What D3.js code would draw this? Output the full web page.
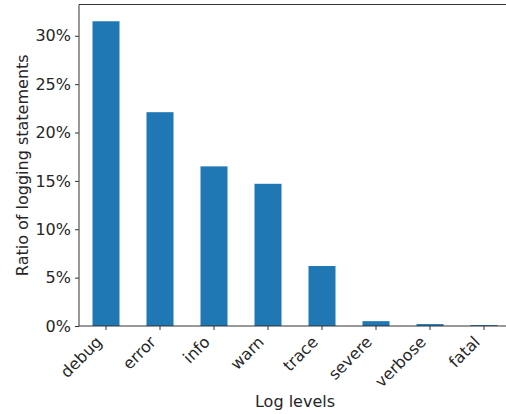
<!DOCTYPE html>
<html lang="en">
    <head>
        <meta charset="utf-8">
        <title>Log levels</title>
        <script type="text/javascript" src="https://d3js.org/d3.v7.min.js"></script>
        <style>
            body { margin: 0; background: #fff; }
            text { font-family: "DejaVu Sans", sans-serif; fill: #262626; }
            .bar { fill: #1f77b4; }
        </style>
    </head>
    <body>
        <svg id="chart"></svg>
    </body>
    <script>
        // data (percent of logging statements)
        let levels = ["debug", "error", "info", "warn", "trace", "severe", "verbose", "fatal"];
        let ratios = [31.5, 22.1, 16.5, 14.7, 6.2, 0.5, 0.2, 0.1];
        let yTicks = [0, 5, 10, 15, 20, 25, 30];

        let width = 506, height = 414;
        let margin = {left: 79, top: 4.5, right: -5, bottom: 88};
        let bodyWidth = width - margin.left - margin.right;
        let bodyHeight = height - margin.top - margin.bottom;

        let svg = d3.select("#chart")
            .attr("width", width)
            .attr("height", height);

        let xScale = d3.scaleBand()
            .domain(levels)
            .range([0, bodyWidth])
            .paddingInner(0.5)
            .paddingOuter(0.25);

        let yScale = d3.scaleLinear()
            .domain([0, d3.max(ratios) * 1.055])
            .range([bodyHeight, 0]);

        let g = svg.append("g")
            .attr("transform", "translate(" + margin.left + "," + margin.top + ")");

        // bars
        g.selectAll(".bar")
            .data(levels)
            .enter()
            .append("rect")
            .attr("class", "bar")
            .attr("x", d => xScale(d))
            .attr("width", xScale.bandwidth())
            .attr("y", (d, i) => yScale(ratios[i]))
            .attr("height", (d, i) => bodyHeight - yScale(ratios[i]));

        // y axis
        let yAxis = g.append("g")
            .call(d3.axisLeft(yScale)
                .tickValues(yTicks)
                .tickFormat(d => d + "%")
                .tickSize(4)
                .tickPadding(4));

        // x axis
        let xAxis = g.append("g")
            .attr("transform", "translate(0," + bodyHeight + ")")
            .call(d3.axisBottom(xScale).tickSize(4).tickPadding(4));

        [xAxis, yAxis].forEach(a => {
            a.selectAll("path").remove();
            a.selectAll("line").attr("stroke", "#333");
            a.selectAll("text").style("font-size", "16px").attr("fill", "#262626");
        });

        xAxis.selectAll("text")
            .attr("text-anchor", "end")
            .attr("dy", null)
            .attr("y", null)
            .attr("transform", "translate(-3,17) rotate(-45)");

        // spines (right one falls outside the picture)
        let spines = g.append("g").attr("stroke", "#333").attr("fill", "none");
        spines.append("line").attr("x1", 0).attr("x2", 0).attr("y1", 0).attr("y2", bodyHeight);
        spines.append("line").attr("x1", 0).attr("x2", bodyWidth).attr("y1", bodyHeight).attr("y2", bodyHeight);
        spines.append("line").attr("x1", 0).attr("x2", bodyWidth).attr("y1", 0).attr("y2", 0);

        // axis labels
        svg.append("text")
            .attr("x", margin.left + bodyWidth / 2)
            .attr("y", 407)
            .attr("text-anchor", "middle")
            .style("font-size", "16px")
            .text("Log levels");

        svg.append("text")
            .attr("transform", "translate(28," + (margin.top + bodyHeight / 2) + ") rotate(-90)")
            .attr("text-anchor", "middle")
            .style("font-size", "16px")
            .text("Ratio of logging statements");
    </script>
</html>
